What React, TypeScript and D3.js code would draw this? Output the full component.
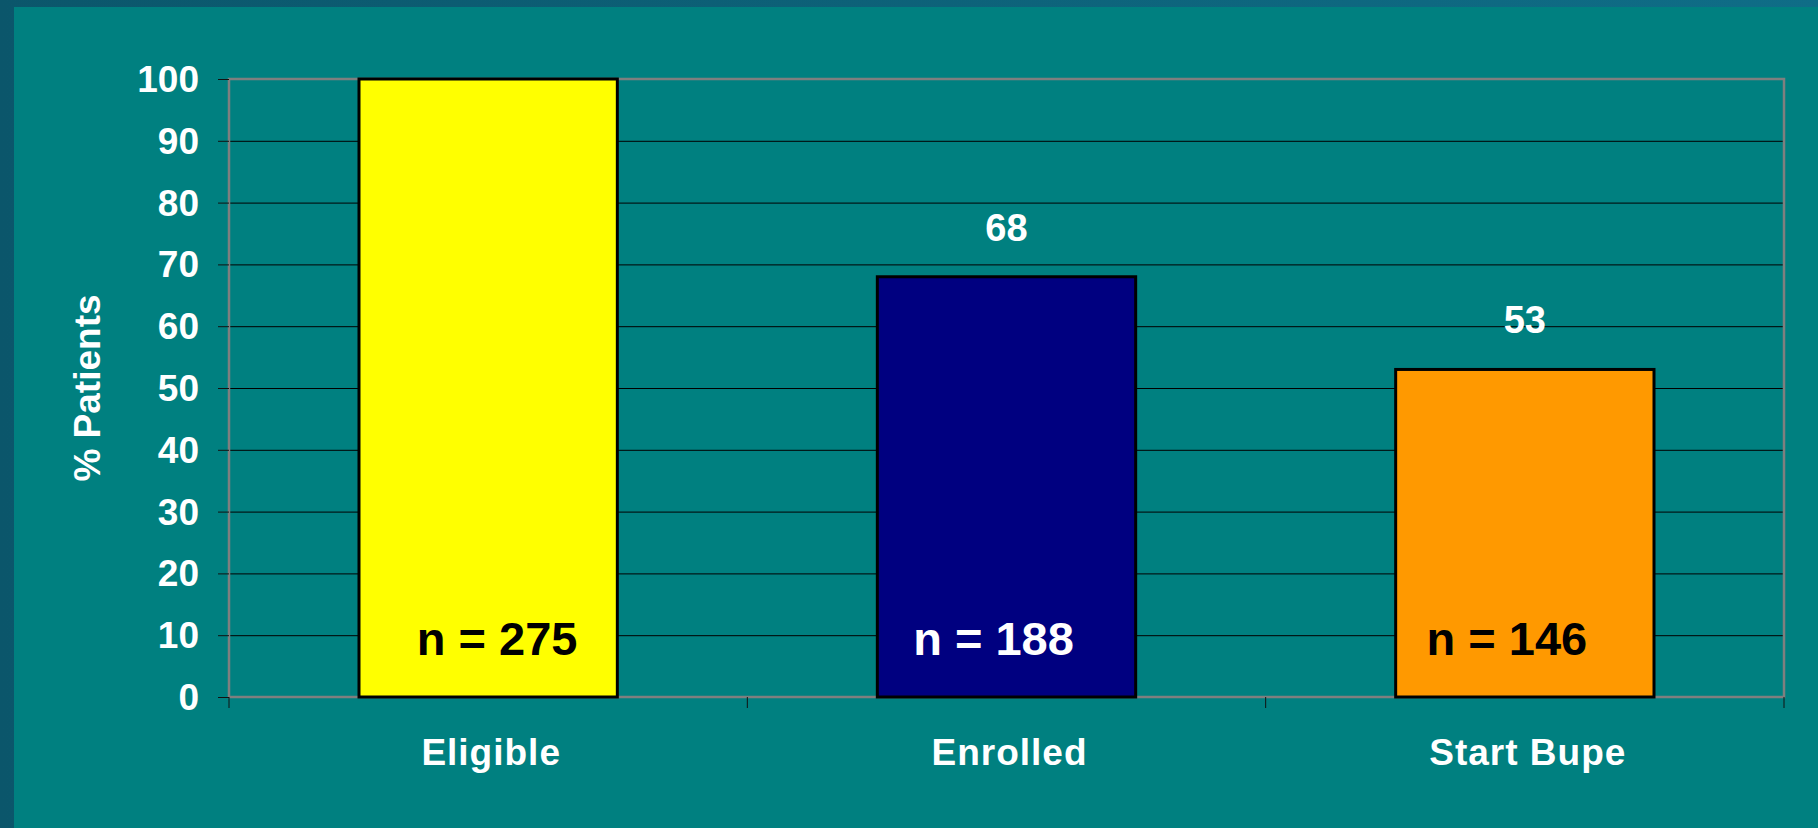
import { useEffect, useRef } from "react";
import { select, scaleLinear, scaleBand, range } from "d3";

// 数据
const categories = ["Eligible", "Enrolled", "Start Bupe"];
const percentValues = [100, 68, 53];
const nCounts = [275, 188, 146];
const showValueLabel = [false, true, true];
const yTicks = range(0, 101, 10);

const barColors = ["#ffff00", "#000080", "#ff9900"];
const nLabelColors = ["#000000", "#ffffff", "#000000"];
// n 标签相对柱中心的偏移（原图里是手动放的文本框）
const nLabelShift = [9, -13, -18];

const WIDTH = 1818;
const HEIGHT = 828;
const FONT = "'Liberation Sans', Arial, Helvetica, sans-serif";

const DrawChart = (el: SVGSVGElement) => {
  const svg = select(el);
  svg.selectAll("*").remove();

  const marginLeft = 229,
    marginRight = 34;
  const marginTop = 79,
    marginBottom = 131;

  const y = scaleLinear([0, 100], [HEIGHT - marginBottom, marginTop]);
  const x = scaleBand(categories, [marginLeft, WIDTH - marginRight])
    .paddingInner(0.5016)
    .paddingOuter(0.2508);
  const band = scaleBand(categories, [marginLeft, WIDTH - marginRight]);

  // 背景
  const defs = svg.append("defs");
  const grad = defs
    .append("linearGradient")
    .attr("id", "outerGrad")
    .attr("x1", "0")
    .attr("x2", "1");
  grad.append("stop").attr("offset", "0").attr("stop-color", "#0b566b");
  grad.append("stop").attr("offset", "1").attr("stop-color", "#0f6d87");
  svg.append("rect").attr("width", WIDTH).attr("height", HEIGHT).attr("fill", "url(#outerGrad)");
  svg
    .append("rect")
    .attr("x", 14)
    .attr("y", 7)
    .attr("width", WIDTH - 14)
    .attr("height", HEIGHT - 7)
    .attr("fill", "#008080");

  const x0 = marginLeft,
    x1 = WIDTH - marginRight;

  // 网格线
  svg
    .append("g")
    .selectAll("line")
    .data(yTicks.filter((d) => d > 0 && d < 100))
    .enter()
    .append("line")
    .attr("x1", x0)
    .attr("x2", x1)
    .attr("y1", (d) => y(d) + 0.5)
    .attr("y2", (d) => y(d) + 0.5)
    .attr("stroke", "#000")
    .attr("stroke-width", 1);

  // 绘图区边框（灰色）
  svg
    .append("rect")
    .attr("x", x0)
    .attr("y", y(100))
    .attr("width", x1 - x0)
    .attr("height", y(0) - y(100))
    .attr("fill", "none")
    .attr("stroke", "#7f7f7f")
    .attr("stroke-width", 2.5);

  // y 轴刻度
  svg
    .append("g")
    .selectAll("line")
    .data(yTicks)
    .enter()
    .append("line")
    .attr("x1", x0 - 11)
    .attr("x2", x0)
    .attr("y1", (d) => y(d) + 0.5)
    .attr("y2", (d) => y(d) + 0.5)
    .attr("stroke", "#111")
    .attr("stroke-width", 1);

  // x 轴刻度
  const catTicks = [...categories.map((c) => band(c) as number), x1];
  svg
    .append("g")
    .selectAll("line")
    .data(catTicks)
    .enter()
    .append("line")
    .attr("x1", (d) => d)
    .attr("x2", (d) => d)
    .attr("y1", y(0))
    .attr("y2", y(0) + 11)
    .attr("stroke", "#111")
    .attr("stroke-width", 1);

  // 柱形
  svg
    .append("g")
    .selectAll("rect")
    .data(percentValues)
    .enter()
    .append("rect")
    .attr("x", (d, i) => x(categories[i]) as number)
    .attr("y", (d) => y(d))
    .attr("width", x.bandwidth())
    .attr("height", (d) => y(0) - y(d))
    .attr("fill", (d, i) => barColors[i])
    .attr("stroke", "#000")
    .attr("stroke-width", 3);

  // y 轴标签
  svg
    .append("g")
    .selectAll("text")
    .data(yTicks)
    .enter()
    .append("text")
    .attr("x", x0 - 30)
    .attr("y", (d) => y(d))
    .attr("dy", "0.35em")
    .attr("text-anchor", "end")
    .attr("fill", "#fff")
    .attr("font-family", FONT)
    .attr("font-weight", "bold")
    .attr("font-size", 37)
    .text((d) => d);

  // 柱顶数值（第一根柱子不显示）
  const valueLabels = percentValues
    .map((v, i) => ({ v, cat: categories[i], show: showValueLabel[i] }))
    .filter((d) => d.show);
  svg
    .append("g")
    .selectAll("text")
    .data(valueLabels)
    .enter()
    .append("text")
    .attr("x", (d) => (x(d.cat) as number) + x.bandwidth() / 2)
    .attr("y", (d) => y(d.v) - 36)
    .attr("text-anchor", "middle")
    .attr("fill", "#fff")
    .attr("font-family", FONT)
    .attr("font-weight", "bold")
    .attr("font-size", 38)
    .text((d) => d.v);

  // n = ...
  svg
    .append("g")
    .selectAll("text")
    .data(nCounts)
    .enter()
    .append("text")
    .attr("x", (d, i) => (x(categories[i]) as number) + x.bandwidth() / 2 + nLabelShift[i])
    .attr("y", y(0) - 42)
    .attr("text-anchor", "middle")
    .attr("fill", (d, i) => nLabelColors[i])
    .attr("font-family", FONT)
    .attr("font-weight", "bold")
    .attr("font-size", 47)
    .text((d) => `n = ${d}`);

  // 类别标签
  svg
    .append("g")
    .selectAll("text")
    .data(categories)
    .enter()
    .append("text")
    .attr("x", (d) => (x(d) as number) + x.bandwidth() / 2 + 3)
    .attr("y", y(0) + 68)
    .attr("text-anchor", "middle")
    .attr("fill", "#fff")
    .attr("font-family", FONT)
    .attr("font-weight", "bold")
    .attr("font-size", 37)
    .attr("letter-spacing", 1)
    .text((d) => d);

  // y 轴标题
  const cy = (y(0) + y(100)) / 2;
  svg
    .append("text")
    .attr("transform", `translate(100, ${cy}) rotate(-90)`)
    .attr("text-anchor", "middle")
    .attr("fill", "#fff")
    .attr("font-family", FONT)
    .attr("font-weight", "bold")
    .attr("font-size", 37)
    .text("% Patients");
};

const App = () => {
  const svgRef = useRef<SVGSVGElement>(null);

  useEffect(() => {
    if (svgRef.current) DrawChart(svgRef.current);
  }, []);

  return (
    <div style={{ position: "absolute", left: 0, top: 0, width: WIDTH, height: HEIGHT }}>
      <svg ref={svgRef} width={WIDTH} height={HEIGHT} style={{ display: "block" }} />
    </div>
  );
};

export default App;
